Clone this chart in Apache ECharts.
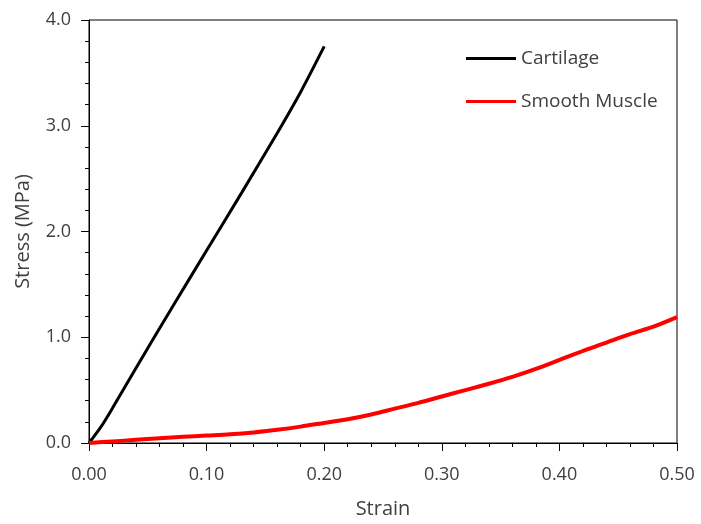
<!DOCTYPE html>
<html>
<head>
<meta charset="utf-8">
<script src="https://cdn.jsdelivr.net/npm/echarts@6/dist/echarts.min.js"></script>
<style>html,body{margin:0;padding:0;background:#fff;}#c{width:701px;height:524px;}</style>
</head>
<body>
<div id="c"></div>
<script>
var seriesNames = ['Cartilage', 'Smooth Muscle'];
var cartilageStrain = [0, 0.01, 0.02, 0.04, 0.07, 0.10, 0.13, 0.16, 0.18, 0.20];
var cartilageStress = [0, 0.15, 0.33, 0.71, 1.27, 1.82, 2.37, 2.93, 3.32, 3.75];
var muscleStrain = [0, 0.02, 0.04, 0.06, 0.08, 0.10, 0.12, 0.14, 0.16, 0.18, 0.20, 0.22, 0.24, 0.26, 0.28, 0.30, 0.32, 0.34, 0.36, 0.38, 0.40, 0.42, 0.44, 0.46, 0.48, 0.50];
var muscleStress = [0, 0.015, 0.03, 0.045, 0.058, 0.07, 0.082, 0.10, 0.125, 0.155, 0.19, 0.225, 0.27, 0.325, 0.38, 0.44, 0.50, 0.56, 0.625, 0.70, 0.785, 0.87, 0.95, 1.03, 1.10, 1.19];
var xAxisTitle = 'Strain';
var yAxisTitle = 'Stress (MPa)';

function pairs(xs, ys) { return xs.map(function (x, i) { return [x, ys[i]]; }); }

var font = 'Open Sans';
var textColor = '#404040';
var chart = echarts.init(document.getElementById('c'), null, { renderer: 'canvas' });
chart.setOption({
  animation: false,
  backgroundColor: '#ffffff',
  textStyle: { fontFamily: font },
  grid: { left: 89, right: 24, top: 20, bottom: 77, show: true, borderColor: '#000', borderWidth: 1, containLabel: false },
  legend: {
    data: seriesNames.map(function (n) { return { name: n, icon: 'rect' }; }),
    orient: 'vertical',
    left: 461, top: 43,
    itemWidth: 50, itemHeight: 3,
    itemGap: 22,
    textStyle: { fontFamily: font, fontSize: 19, color: textColor, lineHeight: 21 }
  },
  xAxis: {
    type: 'value', min: 0, max: 0.5, interval: 0.1,
    name: xAxisTitle, nameLocation: 'middle', nameGap: 56,
    nameTextStyle: { fontFamily: font, fontSize: 20, color: textColor },
    axisLine: { show: true, lineStyle: { color: '#000', width: 1 } },
    axisTick: { show: true, length: 8, lineStyle: { color: '#000' } },
    minorTick: { show: true, splitNumber: 5, length: 4, lineStyle: { color: '#000' } },
    splitLine: { show: false },
    axisLabel: { fontFamily: font, fontSize: 18, color: textColor, margin: 23, formatter: function (v) { return v.toFixed(2); } }
  },
  yAxis: {
    type: 'value', min: 0, max: 4, interval: 1,
    name: yAxisTitle, nameLocation: 'middle', nameGap: 56,
    nameTextStyle: { fontFamily: font, fontSize: 20, color: textColor },
    axisLine: { show: true, lineStyle: { color: '#000', width: 1 } },
    axisTick: { show: true, length: 8, lineStyle: { color: '#000' } },
    minorTick: { show: true, splitNumber: 5, length: 4, lineStyle: { color: '#000' } },
    splitLine: { show: false },
    axisLabel: { fontFamily: font, fontSize: 18, color: textColor, margin: 18, formatter: function (v) { return v.toFixed(1); } }
  },
  series: [
    { name: seriesNames[0], type: 'line', data: pairs(cartilageStrain, cartilageStress), showSymbol: false, symbol: 'none', smooth: 0.3,
      lineStyle: { color: '#000000', width: 3 }, itemStyle: { color: '#000000' } },
    { name: seriesNames[1], type: 'line', data: pairs(muscleStrain, muscleStress), showSymbol: false, symbol: 'none', smooth: 0.3,
      lineStyle: { color: '#ff0000', width: 4 }, itemStyle: { color: '#ff0000' } }
  ]
});
</script>
</body>
</html>
